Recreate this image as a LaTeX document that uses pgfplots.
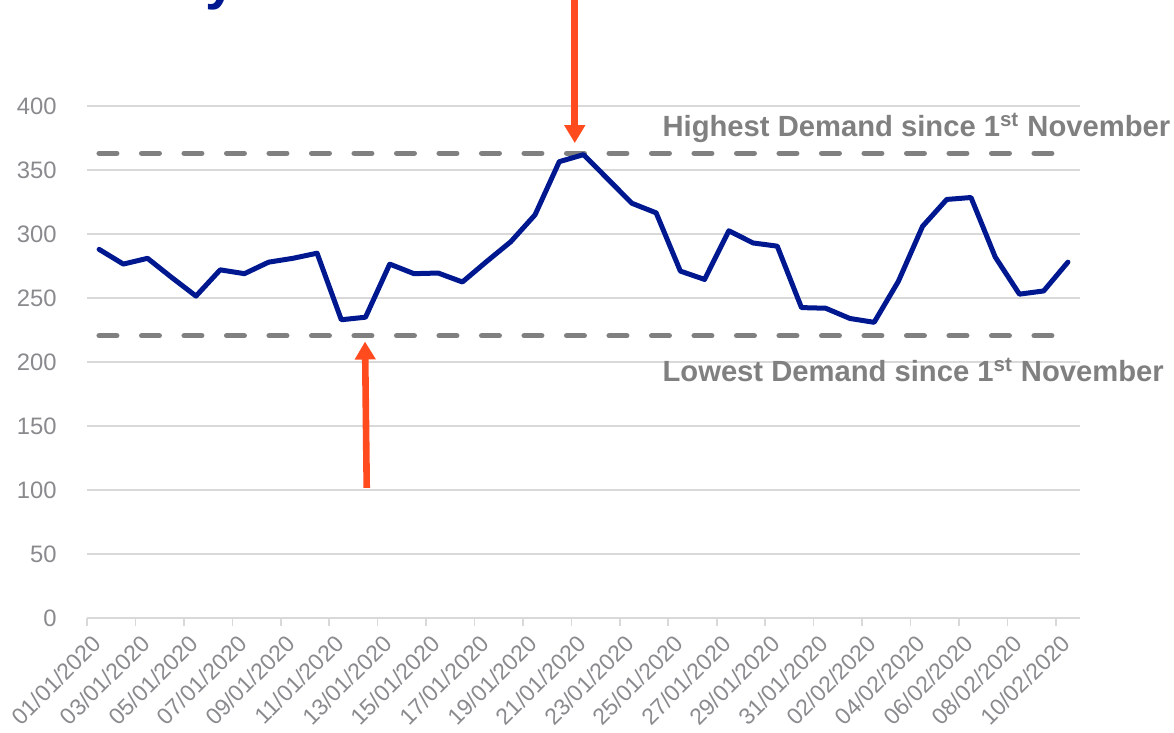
\documentclass[border=0pt]{standalone}
\usepackage{fontspec}
\setmainfont{Liberation Sans}
\usepackage{pgfplots}
\pgfplotsset{compat=1.18}
\usetikzlibrary{arrows.meta}
\definecolor{lineblue}{RGB}{0,24,143}
\definecolor{dashgray}{RGB}{128,128,128}
\definecolor{gridgray}{RGB}{217,217,217}
\definecolor{tickgray}{RGB}{137,137,142}
\definecolor{arroworange}{RGB}{255,75,30}
\begin{document}
\begin{tikzpicture}
\begin{axis}[
  at={(0,0)}, anchor=south west,
  scale only axis, width=496.5pt, height=256pt,
  xmin=-0.5, xmax=40.5, ymin=0, ymax=400,
  enlargelimits=false, clip=false,
  axis line style={draw=none},
  ytick={0,50,...,400},
  ymajorgrids, grid style={color=gridgray, line width=0.8pt},
  xtick={-0.5,1.5,...,39.5},
  xticklabels={01/01/2020,03/01/2020,05/01/2020,07/01/2020,09/01/2020,11/01/2020,13/01/2020,15/01/2020,17/01/2020,19/01/2020,21/01/2020,23/01/2020,25/01/2020,27/01/2020,29/01/2020,31/01/2020,02/02/2020,04/02/2020,06/02/2020,08/02/2020,10/02/2020},
  xtick pos=bottom, tick align=outside, major tick length=4pt,
  xtick style={draw=gridgray, line width=0.8pt},
  ytick style={draw=none},
  /pgf/number format/assume math mode=true,
  tick label style={font=\fontsize{11.9}{12}\selectfont, text=tickgray},
  xticklabel style={font=\fontsize{11.5}{12}\selectfont, anchor=east, inner sep=0pt, xshift=5.2pt, yshift=-6.5pt, rotate=45},
  yticklabel style={anchor=east, inner sep=0pt, xshift=-11pt},
]
% dashed reference lines
\addplot[dashgray, line width=2.65pt, line cap=round, dash pattern=on 8.85pt off 12.4pt]
  coordinates {(0,363) (40,363)};
\addplot[dashgray, line width=2.65pt, line cap=round, dash pattern=on 8.85pt off 12.4pt]
  coordinates {(0,220.5) (40,220.5)};
% demand series
\addplot[lineblue, line width=2.5pt, line join=round, line cap=round] table {
x y
0 288
1 276.5
2 281
3 266
4 251.5
5 272
6 269
7 278
8 281
9 285
10 233
11 235
12 276.5
13 269
14 269.5
15 262.5
16 278.5
17 294
18 315
19 356.5
20 362
21 343
22 324
23 316.5
24 271
25 264.5
26 302.5
27 293
28 290.5
29 242.5
30 242
31 234
32 231
33 263
34 306
35 327
36 328.5
37 282
38 253
39 255.5
40 278
};
% annotations
\node[anchor=base west, inner sep=0pt, text=dashgray, font=\bfseries\fontsize{14.6}{14.6}\selectfont]
  at (axis cs:23.25,376) {Highest Demand since 1\textsuperscript{st} November};
\node[anchor=base west, inner sep=0pt, text=dashgray, font=\bfseries\fontsize{14.6}{14.6}\selectfont]
  at (axis cs:23.25,184.6) {Lowest Demand since 1\textsuperscript{st} November};
\draw[arroworange, line width=3.3pt, -{Triangle[width=10pt,length=9pt]}]
  (axis cs:19.64,495) -- (axis cs:19.64,371);
\draw[arroworange, line width=3.3pt, -{Triangle[width=10pt,length=9pt]}]
  (axis cs:11.05,101.6) -- (axis cs:10.98,216);
% title (cut off at the top of the picture)
\node[anchor=base east, inner sep=0pt, text=lineblue, font=\bfseries\fontsize{28}{28}\selectfont]
  at (axis cs:5.7,484.2) {Daily};
\end{axis}
\pgfresetboundingbox
\path (-43.5pt,-57.5pt) rectangle (543.5pt,309pt);
\end{tikzpicture}
\end{document}
